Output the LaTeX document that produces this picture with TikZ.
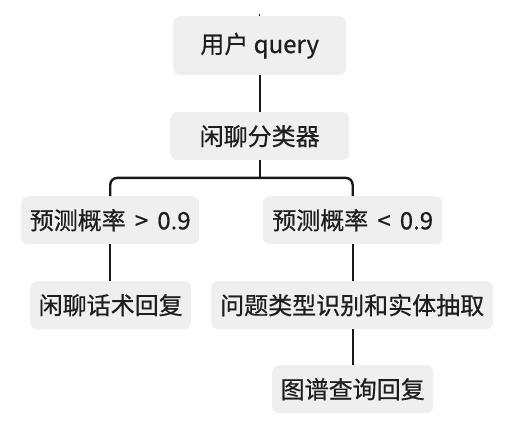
\documentclass[tikz,border=0pt]{standalone}
\usepackage{fontspec}
\usetikzlibrary{calc}
\setmainfont{Noto Sans CJK SC}[FakeBold=0.6]
\definecolor{boxfill}{HTML}{EFEFEF}
\definecolor{txt}{HTML}{1E1E1E}
\newcommand{\gapsp}{\hspace{0.38em}}
\tikzset{
  card/.style={fill=boxfill, rounded corners=7pt, inner sep=0pt, text=txt,
    font=\fontsize{24}{24}\selectfont, anchor=north west},
  link/.style={line width=2.4pt, draw=black!90}
}
\begin{document}
\begin{tikzpicture}[x=1pt,y=-1pt]
\useasboundingbox (0,0) rectangle (527,441);
\node[card, minimum width=173pt, minimum height=59pt] (q) at (173,16) {用户 query};
\node[card, minimum width=179pt, minimum height=48pt] (c) at (170,112) {闲聊分类器};
\node[card, minimum width=178pt, minimum height=48pt] (hi) at (21,196) {预测概率\gapsp>\gapsp0.9};
\node[card, minimum width=179pt, minimum height=48pt] (lo) at (263,196) {预测概率\gapsp<\gapsp0.9};
\node[card, minimum width=161pt, minimum height=48pt] (chat) at (30,281) {闲聊话术回复};
\node[card, minimum width=282pt, minimum height=48pt] (ent) at (211,281) {问题类型识别和实体抽取};
\node[card, minimum width=161pt, minimum height=48pt] (kg) at (272,365) {图谱查询回复};
\coordinate (top) at ($(q.north)+(0,-1.5)$);
\coordinate (bar) at ($(c.south)+(0,17.5)$);
\draw[line width=1.5pt] (q.north) -- (top);
\draw[link] (q.south) -- (c.north);
\draw[link] (c.south) -- (bar);
\draw[link, rounded corners=7pt] (hi.north) |- (bar) -| (lo.north);
\draw[link] (hi.south) -- (hi.south |- chat.north);
\draw[link] (lo.south) -- (lo.south |- ent.north);
\draw[link] (ent.south -| kg.north) -- (kg.north);
\end{tikzpicture}
\end{document}
